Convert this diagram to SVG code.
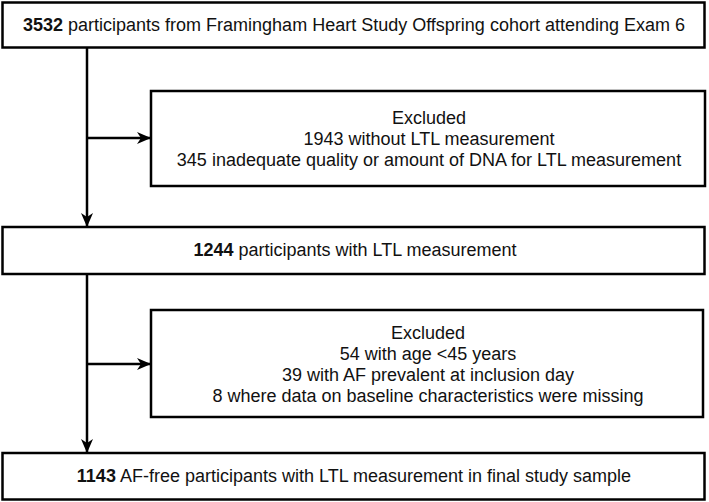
<svg xmlns="http://www.w3.org/2000/svg" width="709" height="502" viewBox="0 0 709 502">
<defs>
<marker id="ah" markerWidth="14" markerHeight="12" refX="13" refY="6" orient="auto" markerUnits="userSpaceOnUse">
<path d="M0,0 L14,6 L0,12 L4,6 Z" fill="#000"/>
</marker>
<style>
.box{fill:#fff;stroke:#000;stroke-width:2.5}
.t{font-family:"Liberation Sans",Arial,sans-serif;font-size:18px;fill:#111;text-anchor:middle}
.b{font-weight:bold}
.c{stroke:#000;stroke-width:2.5;fill:none}
</style>
</defs>
<g id="connectors">
<line class="c" x1="87" y1="48" x2="87" y2="226" marker-end="url(#ah)"/>
<line class="c" x1="87" y1="138" x2="150" y2="138" marker-end="url(#ah)"/>
<line class="c" x1="87" y1="274" x2="87" y2="452" marker-end="url(#ah)"/>
<line class="c" x1="87" y1="364" x2="150" y2="364" marker-end="url(#ah)"/>
</g>
<g id="n1">
<rect class="box" x="2.5" y="2.5" width="702" height="45"/>
<text class="t" x="354" y="31"><tspan class="b">3532</tspan> participants from Framingham Heart Study Offspring cohort attending Exam 6</text>
</g>
<g id="n2">
<rect class="box" x="151" y="91" width="554" height="95"/>
<text class="t" x="429" y="124">Excluded</text>
<text class="t" x="429" y="145">1943 without LTL measurement</text>
<text class="t" x="429" y="166">345 inadequate quality or amount of DNA for LTL measurement</text>
</g>
<g id="n3">
<rect class="box" x="2.5" y="227" width="702" height="47"/>
<text class="t" x="355" y="256"><tspan class="b">1244</tspan> participants with LTL measurement</text>
</g>
<g id="n4">
<rect class="box" x="151" y="310" width="552" height="107"/>
<text class="t" x="428" y="339">Excluded</text>
<text class="t" x="428" y="360">54 with age &lt;45 years</text>
<text class="t" x="428" y="381">39 with AF prevalent at inclusion day</text>
<text class="t" x="428" y="402">8 where data on baseline characteristics were missing</text>
</g>
<g id="n5">
<rect class="box" x="2.5" y="453" width="702" height="46.5"/>
<text class="t" x="354" y="482"><tspan class="b">1143</tspan> AF-free participants with LTL measurement in final study sample</text>
</g>
</svg>
